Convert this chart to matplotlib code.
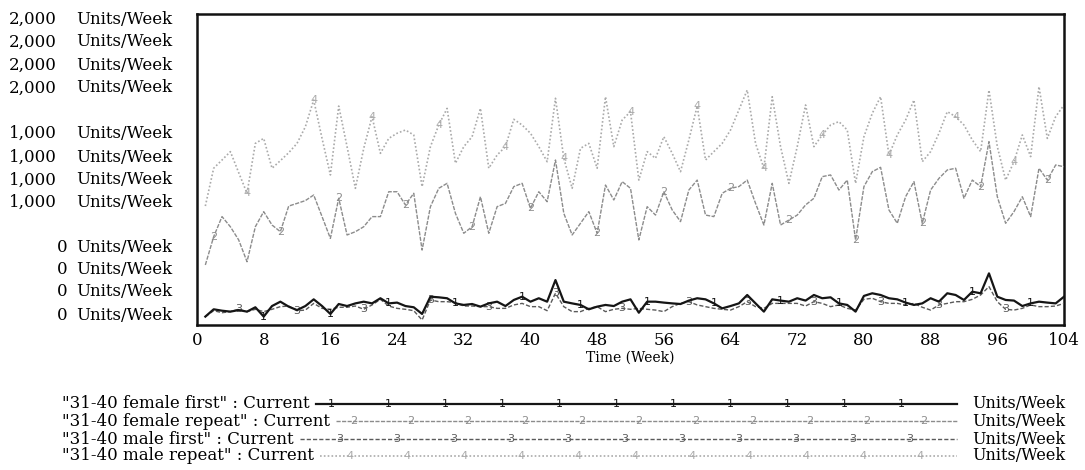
import numpy as np
import matplotlib
matplotlib.use("Agg")
import matplotlib.pyplot as plt
from matplotlib.lines import Line2D

plt.rcParams.update({"font.family": "DejaVu Serif", "font.size": 12})

# ── data (Units/Week) ──────────────────────────────────────────────────────
weeks = np.arange(1, 105)

female_first = [54, 101, 92, 86, 96, 86, 114, 54, 122, 150, 118, 96, 122, 165, 122, 71,
                135, 122, 139, 150, 139, 172, 139, 144, 122, 114, 71, 182, 178, 172, 139, 129,
                135, 118, 139, 150, 122, 161, 182, 150, 172, 150, 289, 150, 139, 129, 101, 118,
                129, 122, 150, 165, 79, 150, 150, 144, 139, 135, 157, 172, 165, 139, 107, 122,
                139, 193, 139, 86, 165, 157, 150, 172, 157, 193, 172, 178, 139, 129, 86, 187,
                204, 193, 172, 165, 144, 129, 139, 172, 150, 204, 193, 161, 214, 204, 332, 182,
                161, 157, 122, 139, 150, 144, 139, 182]

female_repeat = [386, 568, 697, 632, 547, 407, 632, 729, 643, 600, 765, 782, 800, 836, 697, 557,
                 815, 579, 600, 632, 697, 697, 857, 857, 772, 847, 482, 761, 879, 911, 718, 590,
                 632, 825, 590, 761, 782, 890, 911, 750, 857, 793, 1061, 718, 579, 654, 729, 590,
                 900, 804, 922, 879, 547, 761, 707, 857, 740, 665, 868, 932, 707, 697, 847, 879,
                 890, 932, 782, 643, 911, 643, 675, 707, 772, 815, 954, 965, 868, 932, 547, 890,
                 986, 1014, 740, 654, 825, 922, 654, 868, 943, 997, 1008, 815, 932, 890, 1179, 825,
                 654, 729, 825, 697, 1008, 932, 1029, 1018]

male_first = [54, 92, 79, 86, 101, 86, 101, 86, 101, 118, 122, 92, 96, 139, 107, 101,
              114, 114, 122, 101, 129, 165, 122, 107, 101, 92, 32, 161, 150, 150, 144, 122,
              122, 118, 118, 107, 107, 129, 139, 118, 118, 92, 204, 118, 86, 86, 107, 118,
              86, 101, 107, 101, 107, 101, 96, 86, 118, 139, 150, 129, 118, 107, 101, 96,
              118, 150, 118, 107, 139, 139, 139, 139, 122, 150, 139, 118, 129, 107, 96, 165,
              172, 150, 139, 139, 129, 139, 114, 96, 129, 139, 150, 150, 165, 193, 247, 150,
              101, 96, 107, 129, 118, 118, 122, 139]

male_repeat = [765, 1008, 1061, 1115, 980, 847, 1168, 1200, 1008, 1057, 1108, 1168, 1275, 1447, 1200, 965,
               1408, 1147, 879, 1136, 1340, 1104, 1200, 1233, 1254, 1222, 890, 1147, 1286, 1393, 1040, 1147,
               1211, 1393, 1008, 1093, 1147, 1323, 1286, 1233, 1147, 1050, 1458, 1072, 879, 1136, 1168, 1008,
               1468, 1147, 1318, 1372, 932, 1115, 1072, 1211, 1104, 986, 1190, 1408, 1061, 1115, 1168, 1254,
               1383, 1511, 1168, 1008, 1468, 1147, 911, 1147, 1415, 1147, 1222, 1286, 1308, 1254, 911, 1211,
               1361, 1468, 1093, 1222, 1318, 1447, 1050, 1115, 1233, 1372, 1340, 1286, 1190, 1115, 1511, 1147,
               932, 1050, 1222, 1083, 1533, 1200, 1340, 1415]

names = ['"31-40 female first" : Current', '"31-40 female repeat" : Current',
         '"31-40 male first" : Current', '"31-40 male repeat" : Current']
units = "Units/Week"
y_levels = ["2,000", "1,000", "0"]
x_ticks = list(range(0, 105, 8))

# ── styles ─────────────────────────────────────────────────────────────────
W, H = 1085, 470
def fx(px): return px / W
def fy(py): return 1 - py / H

series = [
    # data, colour, linestyle, lw, marker start (weeks), zorder
    (female_first,  "#151515", "-",             1.6, 8.0, 5),
    (female_repeat, "#8c8c8c", (0, (3, 1)),     1.0, 2.0, 3),
    (male_first,    "#5a5a5a", (0, (3, 1.5)),   1.0, 4.6, 4),
    (male_repeat,   "#aaaaaa", (0, (1, 1.3)),   1.2, 6.0, 2),
]
MARK_STEP = 7.7

fig = plt.figure(figsize=(W / 100, H / 100), dpi=100)
ax = fig.add_axes([fx(197), fy(325), fx(1064) - fx(197), fy(14) - fy(325)])

for i, (vals, col, ls, lw, m0, z) in enumerate(series):
    ax.plot(weeks, vals, color=col, ls=ls, lw=lw, zorder=z)
    k = m0
    while k <= 104:
        idx = int(round(k)) - 1
        ax.text(weeks[idx], vals[idx], str(i + 1), color=col, fontsize=8,
                ha="center", va="center", zorder=z + 0.5, family="DejaVu Sans")
        k += MARK_STEP

ax.set_xlim(0, 104)
ax.set_ylim(0, 2000)
ax.set_yticks([])
ax.set_xticks(x_ticks)
ax.set_xticklabels([str(t) for t in x_ticks], fontsize=12)
ax.tick_params(axis="x", length=0, pad=5)
for sp in ax.spines.values():
    sp.set_linewidth(1.8)
    sp.set_color("#111111")
ax.set_xlabel("Time (Week)", fontsize=10, labelpad=1)

# stacked per-variable scale labels (top / middle / bottom)
label_rows = [[19, 42, 65, 88], [133, 157, 180, 202], [247, 270, 292, 315]]
num_right = [57, 57, 67]
for lev, rows, xr in zip(y_levels, label_rows, num_right):
    for r in rows:
        fig.text(fx(xr), fy(r), lev, ha="right", va="center", fontsize=12)
        fig.text(fx(76), fy(r), units, ha="left", va="center", fontsize=12)

# legend: name, line starting right after the name, units at the right
renderer = fig.canvas.get_renderer()
leg_rows = [404, 421, 439, 456]
leg_x1 = 957
leg_first = [16, 18, 40, 30]
for i, (r, (vals, col, ls, lw, m0, z)) in enumerate(zip(leg_rows, series)):
    t = fig.text(fx(62), fy(r), names[i], ha="left", va="center", fontsize=12)
    x0 = t.get_window_extent(renderer).x1 + 6
    fig.add_artist(Line2D([fx(x0), fx(leg_x1)], [fy(r), fy(r)], color=col,
                          ls=ls, lw=lw, transform=fig.transFigure))
    xm = x0 + leg_first[i]
    while xm < leg_x1 - 2:
        fig.text(fx(xm), fy(r), str(i + 1), color=col, fontsize=8,
                 ha="center", va="center", family="DejaVu Sans")
        xm += 57
    fig.text(fx(972), fy(r), units, ha="left", va="center", fontsize=11.5)

fig.savefig("out.png", dpi=100, facecolor="white")
